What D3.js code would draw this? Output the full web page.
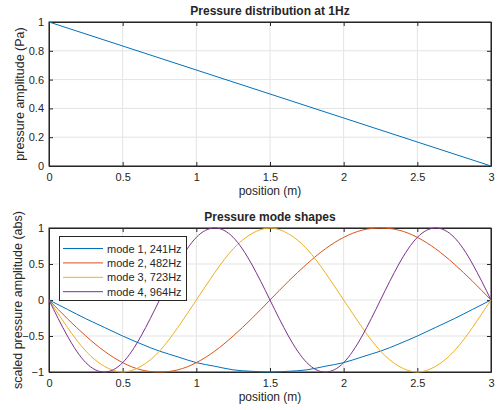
<!DOCTYPE html>
<html>
<head>
<meta charset="utf-8">
<script src="https://cdn.jsdelivr.net/npm/d3@7"></script>
<style>
  body { margin: 0; background: #fff; }
  text { font-family: "Liberation Sans", Arial, Helvetica, sans-serif; fill: #262626; }
</style>
</head>
<body>
<svg id="fig" width="501" height="410"></svg>
<script>
// top plot: pressure at 1Hz
const posTop = [0, 3];
const pressTop = [1, 0];
const yTicksTop = [0, 0.2, 0.4, 0.6, 0.8, 1];

// bottom plot: mode shapes, sampled every 0.125 m
const positions = d3.range(0, 25).map(k => k * 0.125);
const mode1 = [0,-0.13,-0.26,-0.38,-0.5,-0.61,-0.71,-0.79,-0.87,-0.92,-0.97,-0.99,-1,-0.99,-0.97,-0.92,-0.87,-0.79,-0.71,-0.61,-0.5,-0.38,-0.26,-0.13,0];
const mode2 = [0,-0.26,-0.5,-0.71,-0.87,-0.97,-1,-0.97,-0.87,-0.71,-0.5,-0.26,0,0.26,0.5,0.71,0.87,0.97,1,0.97,0.87,0.71,0.5,0.26,0];
const mode3 = [0,-0.38,-0.71,-0.92,-1,-0.92,-0.71,-0.38,0,0.38,0.71,0.92,1,0.92,0.71,0.38,0,-0.38,-0.71,-0.92,-1,-0.92,-0.71,-0.38,0];
const mode4 = [0,-0.5,-0.87,-1,-0.87,-0.5,0,0.5,0.87,1,0.87,0.5,0,-0.5,-0.87,-1,-0.87,-0.5,0,0.5,0.87,1,0.87,0.5,0];
const modeNames = ["mode 1, 241Hz", "mode 2, 482Hz", "mode 3, 723Hz", "mode 4, 964Hz"];
const modeColors = ["#0072BD", "#D95319", "#EDB120", "#7E2F8E"];
const yTicksBot = [-1, -0.5, 0, 0.5, 1];
const xTicks = [0, 0.5, 1, 1.5, 2, 2.5, 3];

const svg = d3.select("#fig");
const left = 49, right = 491;

function drawAxes(top, bottom, yDomain, yTicks, title, ylabel, ylabelX) {
    const x = d3.scaleLinear().domain([0, 3]).range([left, right]);
    const y = d3.scaleLinear().domain(yDomain).range([bottom, top]);
    const g = svg.append("g");

    // grid
    g.selectAll(".gx").data(xTicks).enter().append("line")
        .attr("x1", d => x(d)).attr("x2", d => x(d))
        .attr("y1", top).attr("y2", bottom)
        .attr("stroke", "#e3e3e3").attr("stroke-width", 1);
    g.selectAll(".gy").data(yTicks).enter().append("line")
        .attr("x1", left).attr("x2", right)
        .attr("y1", d => y(d)).attr("y2", d => y(d))
        .attr("stroke", "#e3e3e3").attr("stroke-width", 1);

    // axes with inward ticks on all sides
    const fmt = d3.format("");
    const ax = g.append("g").attr("transform", `translate(0,${bottom})`)
        .call(d3.axisBottom(x).tickValues(xTicks).tickSizeInner(-4).tickSizeOuter(0).tickPadding(7).tickFormat(fmt));
    const axT = g.append("g").attr("transform", `translate(0,${top})`)
        .call(d3.axisTop(x).tickValues(xTicks).tickSizeInner(-4).tickSizeOuter(0).tickFormat(""));
    const ay = g.append("g").attr("transform", `translate(${left},0)`)
        .call(d3.axisLeft(y).tickValues(yTicks).tickSizeInner(-4).tickSizeOuter(0).tickPadding(5).tickFormat(fmt));
    const ayR = g.append("g").attr("transform", `translate(${right},0)`)
        .call(d3.axisRight(y).tickValues(yTicks).tickSizeInner(-4).tickSizeOuter(0).tickFormat(""));
    [ax, axT, ay, ayR].forEach(a => {
        a.select(".domain").attr("stroke", "#262626");
        a.selectAll(".tick line").attr("stroke", "#262626");
        a.selectAll("text").attr("font-size", 11).attr("fill", "#262626")
            .attr("font-family", '"Liberation Sans", Arial, sans-serif');
    });
    // box outline
    g.append("rect").attr("x", left).attr("y", top)
        .attr("width", right - left).attr("height", bottom - top)
        .attr("fill", "none").attr("stroke", "#262626").attr("stroke-width", 1);

    svg.append("text").attr("x", (left + right) / 2).attr("y", top - 7)
        .attr("text-anchor", "middle").attr("font-size", 12).attr("font-weight", "bold")
        .attr("fill", "#000").text(title);
    svg.append("text").attr("x", (left + right) / 2).attr("y", bottom + 29)
        .attr("text-anchor", "middle").attr("font-size", 12).text("position (m)");
    svg.append("text")
        .attr("transform", `translate(${ylabelX},${(top + bottom) / 2}) rotate(-90)`)
        .attr("text-anchor", "middle").attr("font-size", 12.5).text(ylabel);
    return {x, y};
}

// top subplot
const t = drawAxes(22, 166, [0, 1], yTicksTop, "Pressure distribution at 1Hz", "pressure amplitude (Pa)", 24);
svg.append("path")
    .datum(posTop.map((p, i) => [p, pressTop[i]]))
    .attr("fill", "none").attr("stroke", "#0072BD").attr("stroke-width", 1)
    .attr("d", d3.line().x(d => t.x(d[0])).y(d => t.y(d[1])));

// bottom subplot
const b = drawAxes(228, 372, [-1, 1], yTicksBot, "Pressure mode shapes", "scaled pressure amplitude (abs)", 22);
const modes = [mode1, mode2, mode3, mode4];
const line = d3.line().x(d => b.x(d[0])).y(d => b.y(d[1])).curve(d3.curveNatural);
modes.forEach((m, i) => {
    svg.append("path")
        .datum(positions.map((p, j) => [p, m[j]]))
        .attr("fill", "none").attr("stroke", modeColors[i]).attr("stroke-width", 1)
        .attr("d", line);
});

// legend
const leg = svg.append("g");
leg.append("rect").attr("x", 59.5).attr("y", 236.5).attr("width", 127).attr("height", 64)
    .attr("fill", "#fff").attr("stroke", "#262626").attr("stroke-width", 1);
modeNames.forEach((name, i) => {
    const yy = 248.5 + i * 14.4;
    leg.append("line").attr("x1", 63).attr("x2", 103).attr("y1", yy).attr("y2", yy)
        .attr("stroke", modeColors[i]).attr("stroke-width", 1);
    leg.append("text").attr("x", 107).attr("y", yy + 4).attr("font-size", 11).text(name);
});
</script>
</body>
</html>
